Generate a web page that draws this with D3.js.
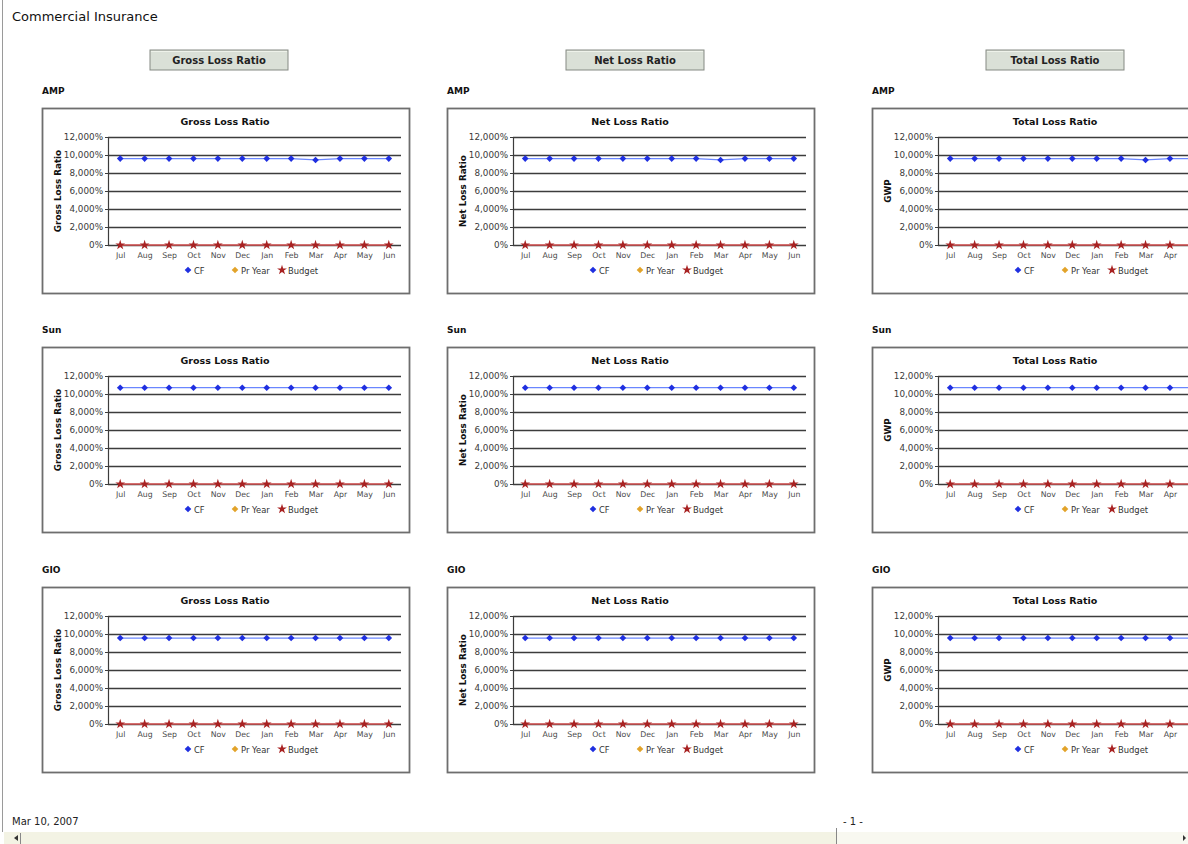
<!DOCTYPE html>
<html>
<head>
<meta charset="utf-8">
<script src="https://cdn.jsdelivr.net/npm/d3@7"></script>
<style>
  html, body { margin: 0; padding: 0; background: #fff; overflow: hidden; }
  svg { display: block; font-family: 'DejaVu Sans', Verdana, sans-serif; }
</style>
</head>
<body>
<svg id="page" width="1188" height="844"></svg>
<script>
// ── Data ──
const months = ['Jul', 'Aug', 'Sep', 'Oct', 'Nov', 'Dec', 'Jan', 'Feb', 'Mar', 'Apr', 'May', 'Jun'];
const groups = ['AMP', 'Sun', 'GIO'];
const measures = ['Gross Loss Ratio', 'Net Loss Ratio', 'Total Loss Ratio'];
const yTitles = ['Gross Loss Ratio', 'Net Loss Ratio', 'GWP'];
const legendKeys = ['CF', 'Pr Year', 'Budget'];
const yTicks = [0, 20, 40, 60, 80, 100, 120];   // shown as 0% … 12,000%

const cfAMP = [96, 96, 96, 96, 96, 96, 96, 96, 94.5, 96, 96, 96];
const cfSun = [107, 107, 107, 107, 107, 107, 107, 107, 107, 107, 107, 107];
const cfGIO = [95.5, 95.5, 95.5, 95.5, 95.5, 95.5, 95.5, 95.5, 95.5, 95.5, 95.5, 95.5];
const budget = [0, 0, 0, 0, 0, 0, 0, 0, 0, 0, 0, 0];
const cfByGroup = { AMP: cfAMP, Sun: cfSun, GIO: cfGIO };

// ── Layout ──
const pageW = 1188;
const colX = [42, 447, 872];
const rowY = [108, 347, 587];
const btnCx = [219, 635, 1055];
const boxW = 367, boxH = 185;
const plot = { left: 66, right: 359, top: 29, bottom: 137 };

const colors = { cf: '#1f2fe0', cfLine: '#6a86ff', pr: '#e2a32a', budget: '#a82222', budgetLine: '#d65050' };
const fmt = d3.format(',.0%');
const diamond = d3.symbol(d3.symbolSquare, 22);
const star = d3.symbol(d3.symbolStar, 30);

const svg = d3.select('#page');

// page frame
svg.append('line').attr('x1', 2.5).attr('x2', 2.5).attr('y1', 0).attr('y2', 832)
  .attr('stroke', '#9a9a9a').attr('stroke-width', 1);

svg.append('text').attr('x', 12).attr('y', 21)
  .attr('font-size', 13).attr('fill', '#111')
  .text('Commercial Insurance');

// column header buttons
measures.forEach((m, i) => {
  const g = svg.append('g').attr('transform', `translate(${btnCx[i] - 69},50)`);
  g.append('rect').attr('width', 138).attr('height', 20)
    .attr('fill', '#dae0d7').attr('stroke', '#858a83').attr('stroke-width', 1);
  g.append('line').attr('x1', 1).attr('x2', 137).attr('y1', 1.5).attr('y2', 1.5)
    .attr('stroke', '#eef2ea');
  g.append('text').attr('x', 69).attr('y', 14).attr('text-anchor', 'middle')
    .attr('font-size', 10).attr('font-weight', 'bold').attr('fill', '#222')
    .text(m);
});

function drawChart(bx, by, group, measure, yTitle) {
  svg.append('text').attr('x', bx).attr('y', by - 14)
    .attr('font-size', 9).attr('font-weight', 'bold').attr('fill', '#111')
    .text(group);

  const g = svg.append('g').attr('transform', `translate(${bx},${by})`);
  g.append('rect').attr('x', 0.5).attr('y', 0.5).attr('width', boxW).attr('height', boxH)
    .attr('fill', '#fff').attr('stroke', '#6e6e6e').attr('stroke-width', 1.8);

  g.append('text').attr('x', 183).attr('y', 17).attr('text-anchor', 'middle')
    .attr('font-size', 9.5).attr('font-weight', 'bold').attr('fill', '#111')
    .text(measure);

  const x = d3.scalePoint().domain(months)
    .range([plot.left, plot.right]).padding(0.5);
  const y = d3.scaleLinear().domain([0, 120]).range([plot.bottom, plot.top]);
  const w = plot.right - plot.left;

  // grid
  const grid = g.append('g').attr('transform', `translate(${plot.left},0)`)
    .call(d3.axisLeft(y).tickValues(yTicks).tickSize(-w).tickFormat(''));
  grid.select('.domain').remove();
  grid.selectAll('line').attr('stroke', '#3c3c3c').attr('stroke-width', 1.4);

  // y axis
  const ya = g.append('g').attr('transform', `translate(${plot.left},0)`)
    .call(d3.axisLeft(y).tickValues(yTicks).tickSize(3).tickPadding(2).tickFormat(fmt));
  ya.select('.domain').attr('stroke', '#3c3c3c').attr('stroke-width', 1.2);
  ya.selectAll('line').attr('stroke', '#3c3c3c');
  ya.selectAll('text').attr('fill', '#3a3a3a').attr('font-size', 8.8)
    .attr('font-family', "'DejaVu Sans', Verdana, sans-serif");

  // x axis labels (labels past the page edge are not shown, as in the clipped page)
  const xa = g.append('g').attr('transform', `translate(0,${plot.bottom})`)
    .call(d3.axisBottom(x).tickSize(0).tickPadding(7));
  xa.select('.domain').remove();
  xa.selectAll('text').attr('fill', '#4a4a4a').attr('font-size', 7.8)
    .attr('font-family', "'DejaVu Sans', Verdana, sans-serif");
  xa.selectAll('.tick').filter(d => bx + x(d) + 9 > pageW).remove();

  g.append('text')
    .attr('transform', `translate(19,${(plot.top + plot.bottom) / 2}) rotate(-90)`)
    .attr('text-anchor', 'middle')
    .attr('font-size', 8.8).attr('font-weight', 'bold').attr('fill', '#111')
    .text(yTitle);

  // Budget series
  const line = d3.line().x((d, i) => x(months[i])).y(d => y(d));
  g.append('path').datum(budget)
    .attr('fill', 'none').attr('stroke', colors.budgetLine).attr('stroke-width', 1.4)
    .attr('d', line);
  g.selectAll('path.bud').data(budget).enter().append('path').attr('class', 'bud')
    .attr('transform', (d, i) => `translate(${x(months[i])},${y(d)})`)
    .attr('d', star)
    .attr('fill', colors.budget);

  // CF series
  const cf = cfByGroup[group];
  g.append('path').datum(cf)
    .attr('fill', 'none').attr('stroke', colors.cfLine).attr('stroke-width', 1.2)
    .attr('d', line);
  g.selectAll('path.cf').data(cf).enter().append('path').attr('class', 'cf')
    .attr('transform', (d, i) => `translate(${x(months[i])},${y(d)}) rotate(45)`)
    .attr('d', diamond)
    .attr('fill', colors.cf);

  // legend
  const lx = [146, 193, 240];
  const col = [colors.cf, colors.pr, colors.budget];
  legendKeys.forEach((k, i) => {
    g.append('path')
      .attr('transform', `translate(${lx[i]},162)` + (i < 2 ? ' rotate(45)' : ''))
      .attr('d', i < 2 ? diamond : star).attr('fill', col[i]);
    g.append('text').attr('x', lx[i] + 6).attr('y', 165.5)
      .attr('font-size', 8.4).attr('fill', '#333').text(k);
  });
}

groups.forEach((grp, r) => {
  measures.forEach((m, c) => drawChart(colX[c], rowY[r], grp, m, yTitles[c]));
});

// footer
svg.append('text').attr('x', 12).attr('y', 825).attr('font-size', 10).attr('fill', '#222')
  .text('Mar 10, 2007');
svg.append('text').attr('x', 853).attr('y', 825).attr('text-anchor', 'middle')
  .attr('font-size', 10).attr('fill', '#222').text('- 1 -');

// scroll bar
svg.append('rect').attr('x', 4).attr('y', 832).attr('width', 832).attr('height', 12).attr('fill', '#f3f3e4');
svg.append('rect').attr('x', 836).attr('y', 832).attr('width', 352).attr('height', 12).attr('fill', '#f8f8f0');
svg.append('line').attr('x1', 836.5).attr('x2', 836.5).attr('y1', 828).attr('y2', 844).attr('stroke', '#888');
svg.append('line').attr('x1', 20.5).attr('x2', 20.5).attr('y1', 833).attr('y2', 844).attr('stroke', '#888');
svg.append('path').attr('d', 'M14,838 L18,835 L18,841 Z').attr('fill', '#333');
svg.append('path').attr('d', 'M1186,838 L1183,835 L1183,841 Z').attr('fill', '#333');
</script>
</body>
</html>
